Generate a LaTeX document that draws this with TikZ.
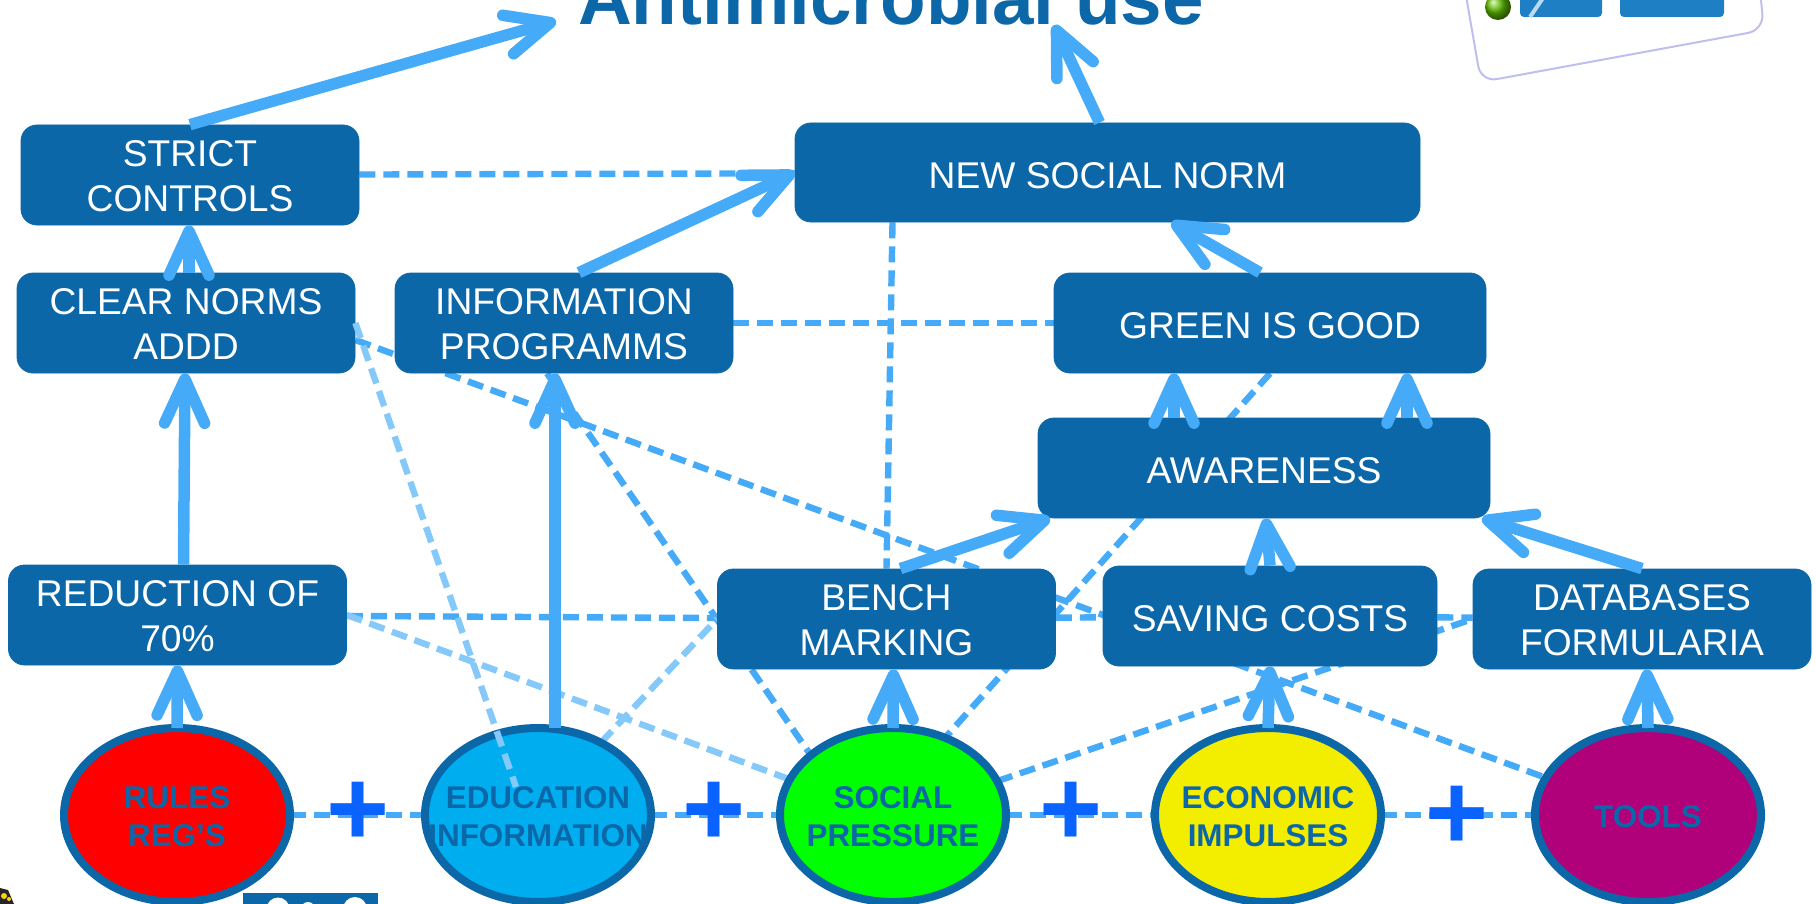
\documentclass[tikz,border=0pt]{standalone}
\usepackage{fontspec}
\setmainfont{Liberation Sans}
\usetikzlibrary{arrows.meta,shapes.geometric,backgrounds}
\definecolor{boxblue}{HTML}{0B67A8}
\definecolor{linkblue}{HTML}{45ABF8}
\definecolor{palelink}{HTML}{85C8FA}
\definecolor{plusblue}{HTML}{0A62FF}
\definecolor{cardblue}{HTML}{1E7FC4}
\definecolor{educyan}{HTML}{00AEEF}
\definecolor{toolpurple}{HTML}{B0007A}
\definecolor{ecoyellow}{HTML}{F3EE00}
\tikzset{
    x=0.5pt, y=-0.5pt,
    normbox/.style={draw=boxblue, fill=boxblue, rounded corners=8pt, text=white, align=center,
        font=\fontsize{18.6}{22.6}\selectfont, minimum width=169pt, minimum height=50pt, inner sep=0pt},
    oneline/.style={normbox, text height=15.7pt},
    twolines/.style={normbox, text height=36.7pt},
    pillar/.style={ellipse, draw=boxblue, line width=4pt, text=boxblue, align=center, inner xsep=-40pt, inner ysep=0pt,
        outer sep=0pt, text height=32.1pt, font=\fontsize{15.7}{19}\bfseries\selectfont, minimum width=113pt, minimum height=87pt},
    plussign/.style={text=plusblue, inner sep=0pt, font=\fontsize{54}{54}\bfseries\selectfont},
    effect/.style={-{Straight Barb[length=22pt,width=20pt,round]}, draw=linkblue, line width=5.75pt},
    link/.style={draw=linkblue, line width=3.2pt, dash pattern=on 8pt off 4pt},
    palelink/.style={link, draw=palelink}
}
\begin{document}
\begin{tikzpicture}
    \useasboundingbox (0,0) rectangle (1816,904);

    % card in the corner
    \draw[draw=black!25!blue!25, line width=1pt, rounded corners=8pt] (1465,-10) -- (1481,82) -- (1764,30) -- (1760,-10);
    \fill[cardblue, rounded corners=2pt] (1520,-10) rectangle (1602,17);
    \fill[cardblue, rounded corners=2pt] (1620,-10) rectangle (1724,17);
    \draw[white!70!cardblue, line width=2pt] (1530,17) -- (1545,-5);
    \shade[ball color=green!50!yellow!75!black] (1498,7) circle (6.5pt);

    % logos cut off by the page
    \fill[black!85] (0,904) -- (0,888) -- (8,890) -- (14,904) -- cycle;
    \fill[yellow!70!orange] (4,896) circle (1.5pt) (9,899) circle (1pt);
    \fill[boxblue] (243,893) rectangle (378,910);
    \fill[white] (278,909) circle (5.75pt) (308,909) circle (3.5pt) (355,909) circle (6pt);

    \node[anchor=base, text=boxblue, font=\fontsize{37.3}{40}\bfseries\selectfont] (title) at (891,25) {Antimicrobial use};
    \coordinate (titleleft) at (556,21);
    \coordinate (titleright) at (1054,25);

    \node[twolines] (strict) at (190,175) {STRICT\\CONTROLS};
    \node[twolines] (clear) at (186,323) {CLEAR NORMS\\ADDD};
    \node[twolines] (info) at (564,323) {INFORMATION\\PROGRAMMS};
    \node[oneline, minimum width=312.5pt, minimum height=49.5pt] (new) at (1107.5,172.5) {NEW SOCIAL NORM};
    \node[oneline, minimum width=216pt] (green) at (1270,323) {GREEN IS GOOD};
    \node[oneline, minimum width=226pt] (aware) at (1264,468) {AWARENESS};
    \node[twolines] (reduction) at (177.5,615) {REDUCTION OF\\70\%};
    \node[twolines] (bench) at (886.5,619) {BENCH\\MARKING};
    \node[oneline, minimum width=167pt] (saving) at (1270,616) {SAVING COSTS};
    \node[twolines] (databases) at (1642,619) {DATABASES\\FORMULARIA};

    \node[pillar, fill=red] (rules) at (177,815) {RULES\\REG’S};
    \node[pillar, fill=educyan] (education) at (538,815) {EDUCATION\\INFORMATION};
    \node[pillar, fill=green] (social) at (893,815) {SOCIAL\\PRESSURE};
    \node[pillar, fill=ecoyellow] (economic) at (1268,815) {ECONOMIC\\IMPULSES};
    \node[pillar, fill=toolpurple, text height=13pt] (tools) at (1648,815) {TOOLS};

    \node[plussign] (plusa) at (358,814) {+};
    \node[plussign] (plusb) at (714,814) {+};
    \node[plussign] (plusc) at (1071,814) {+};
    \node[plussign] (plusd) at (1457,818) {+};

    \begin{scope}[on background layer]
        \draw[link] (strict) -- (new);
        \draw[link] (info) -- (green);
        \draw[link] ([xshift=-107.5pt]new.south) -- (bench.north);
        \draw[link] ([yshift=-8.5pt]clear.east) -- (tools.160);
        \draw[link] ([xshift=-8.5pt]info.south) -- (social.144);
        \draw[link] (reduction) -- (bench);
        \draw[link] (bench) -- (saving);
        \draw[link] (saving) -- (databases);
        \draw[palelink] (reduction.east) -- (social.161);
        \draw[palelink] (education.49) -- (bench.west);
        \draw[link] (green.south) -- (social.56);
        \draw[link] (social.18) -- (databases.west);
        \draw[link] (rules) -- (education);
        \draw[link] (education) -- (social);
        \draw[link] (social) -- (economic);
        \draw[link] (economic) -- (tools);
    \end{scope}

    % this one lies over the ellipse
    \coordinate (paleend) at (516,787);
    \draw[palelink] (clear.east) -- (paleend);

    \draw[effect] (strict.north) -- (titleleft);
    \draw[effect] ([xshift=-4pt]new.north) -- (titleright);
    \draw[effect] ([xshift=7.5pt]info.north) -- (new.west);
    \draw[effect] ([xshift=-5pt]green.north) -- ([xshift=32pt]new.south);
    \draw[effect] ([xshift=1.5pt]clear.north) -- ([xshift=-.5pt]strict.south);
    \draw[effect] ([xshift=3pt]reduction.north) -- ([xshift=-.5pt]clear.south);
    \draw[effect] (rules.north) -- (reduction.south);
    \draw[effect] ([xshift=8.5pt]education.north) -- ([xshift=-4.5pt]info.south);
    \draw[effect] (social.north) -- ([xshift=3.5pt]bench.south);
    \draw[effect] (economic.north) -- (saving.south);
    \draw[effect] (tools.north) -- ([xshift=2.5pt]databases.south);
    \draw[effect] ([xshift=7pt]bench.north) -- ([xshift=-107pt]aware.south);
    \draw[effect] (saving.north) -- ([xshift=1pt]aware.south);
    \draw[effect] (databases.north) -- ([xshift=109pt]aware.south);
    \draw[effect] ([xshift=-45pt]aware.north) -- ([xshift=-48pt]green.south);
    \draw[effect] ([xshift=71.5pt]aware.north) -- ([xshift=68.5pt]green.south);
\end{tikzpicture}
\end{document}
